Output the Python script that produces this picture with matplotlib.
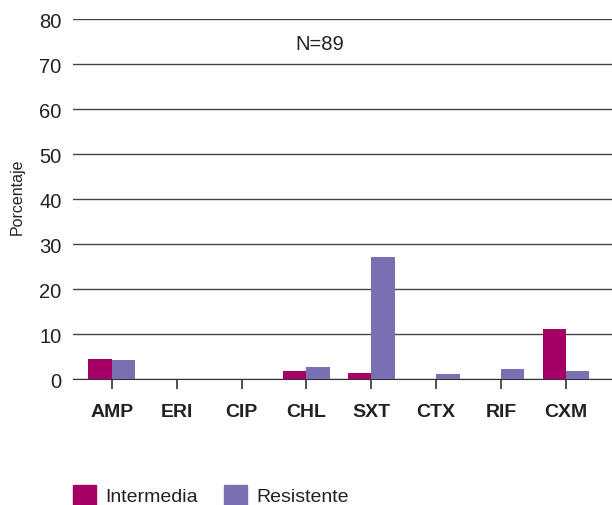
import matplotlib.pyplot as plt
import matplotlib.patches as mpatches
import numpy as np

plt.rcParams['font.family'] = ['Liberation Sans', 'DejaVu Sans']

# data
categories = ['AMP', 'ERI', 'CIP', 'CHL', 'SXT', 'CTX', 'RIF', 'CXM']
intermedia = [4.5, 0, 0, 1.7, 1.3, 0, 0, 11.2]
resistente = [4.2, 0, 0, 2.6, 27.2, 1.2, 2.2, 1.7]
labels = ['Intermedia', 'Resistente']
hex_colors = ['#a60066', '#7870b2']

fig = plt.figure(figsize=(6.12, 5.06), dpi=100)
ax = fig.add_axes([0.119, 0.249, 0.881, 0.711])

x = np.arange(len(categories))
w = 0.36
ax.bar(x - w/2, intermedia, w, color=hex_colors[0], zorder=3)
ax.bar(x + w/2, resistente, w, color=hex_colors[1], zorder=3)

ax.set_xlim(-0.6, 7.71)
ax.set_ylim(0, 80)
ax.set_yticks(range(0, 81, 10))
ax.yaxis.grid(True, color='#444444', lw=1)
ax.set_axisbelow(True)
for s in ['top', 'right', 'left']:
	ax.spines[s].set_visible(False)
ax.spines['bottom'].set_color('#333333')
ax.tick_params(axis='y', length=0, labelsize=14.5, pad=8, labelcolor='#222222')
ax.tick_params(axis='x', length=7, width=1.2, color='#333333', labelsize=14, pad=10)
ax.set_xticks(x)
ax.set_xticklabels(categories, fontweight='bold', color='#222222')
ax.set_ylabel('Porcentaje', fontsize=11.5, color='#222222')
ax.yaxis.set_label_coords(-0.09, 0.51)

ax.text(3.2, 74.5, 'N=89', ha='center', va='center', fontsize=14.5, color='#222222')

patches = [mpatches.Patch(color=hex_colors[i], label=labels[i]) for i in range(2)]
fig.legend(handles=patches, loc='lower left', bbox_to_anchor=(0.09, -0.035), ncol=2,
	frameon=False, fontsize=14, handlelength=1.2, handleheight=1.2,
	handletextpad=0.5, columnspacing=1.3, labelcolor='#222222')

plt.savefig('out.png', dpi=100)
